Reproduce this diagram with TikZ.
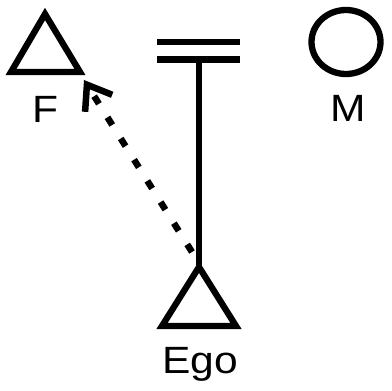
\documentclass[tikz,border=0pt]{standalone}
\usepackage{fontspec}
\setmainfont{Liberation Sans}
\usetikzlibrary{arrows.meta,shapes.geometric}
\begin{document}
\begin{tikzpicture}[x=1pt,y=-1pt,
  sym/.style={draw=black, line width=6.3pt, miter limit=10},
  lbl/.style={font=\fontsize{38}{38}\selectfont, inner sep=0pt, xscale=1.12},
  descent/.style={draw=black, line width=6.5pt,
    dash pattern=on 9pt off 16pt,
    -{Straight Barb[length=22pt,width=32pt,line width=6.5pt]}}]
\useasboundingbox (0,0) rectangle (392,391);
% father triangle
\coordinate (fapex) at (45,14);
\coordinate (fright) at (80,72);
\coordinate (fleft) at (11,72);
\draw[sym] (fapex) -- (fright) -- (fleft) -- cycle;
\node[lbl] (flabel) at (45,109) {F};
% mother circle
\node[sym, ellipse, minimum width=69pt, minimum height=64pt, inner sep=0pt] (m) at (346,42) {};
\node[lbl] (mlabel) at (348,108) {M};
% marriage sign
\coordinate (d1l) at (157,42);
\coordinate (d1r) at (240,42);
\coordinate (d2l) at (157,59.5);
\coordinate (d2r) at (240,59.5);
\coordinate (dmid) at (199,59.5);
\draw[sym] (d1l) -- (d1r);
\draw[sym] (d2l) -- (d2r);
% ego triangle
\coordinate (eapex) at (199,267);
\coordinate (eright) at (236,326);
\coordinate (eleft) at (162,326);
\draw[sym] (eapex) -- (eright) -- (eleft) -- cycle;
\draw[sym] (dmid) -- (eapex);
\node[lbl] (elabel) at (200,364) {Ego};
% dotted arrow
\coordinate (astart) at (192,252);
\coordinate (aend) at (84,80);
\draw[descent] (astart) -- (aend);
\end{tikzpicture}
\end{document}
